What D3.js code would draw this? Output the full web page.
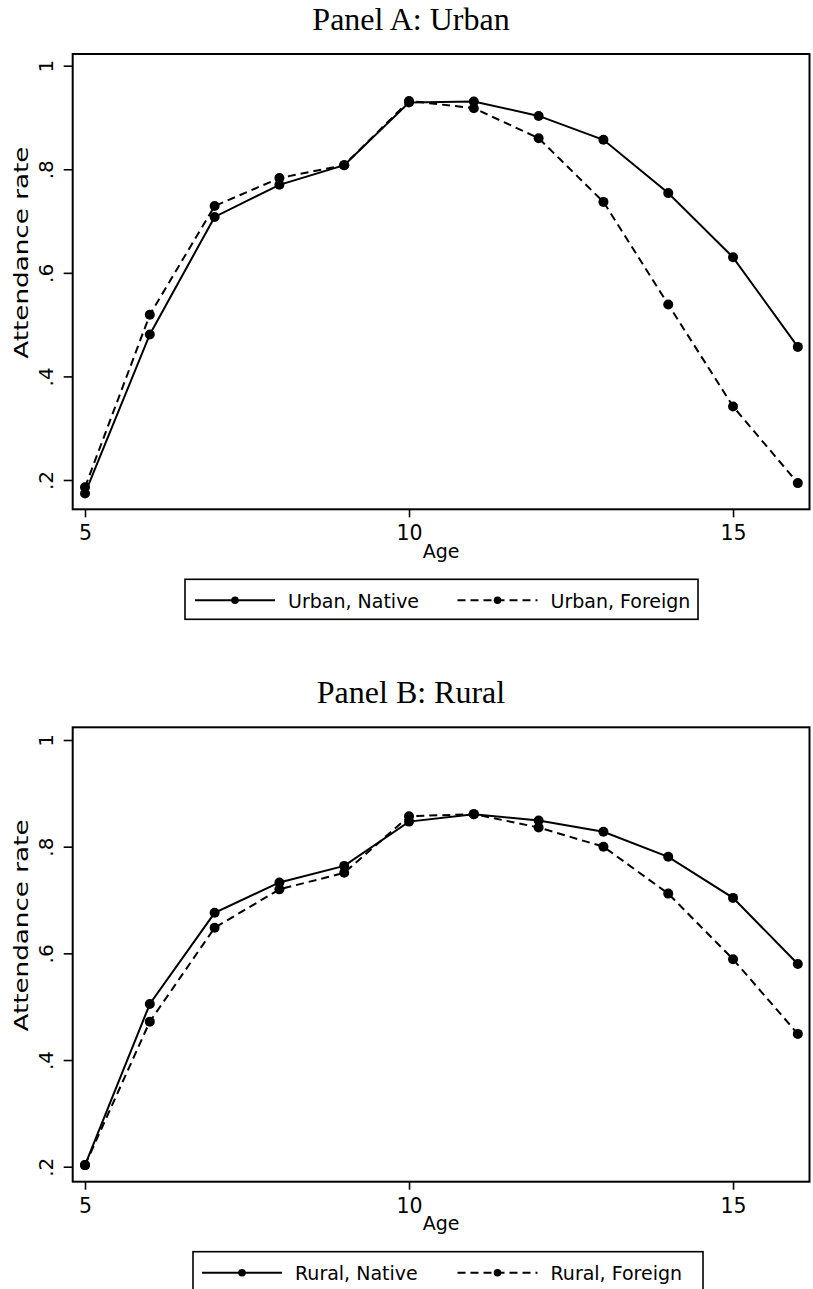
<!DOCTYPE html>
<html>
<head>
<meta charset="utf-8">
<script src="https://cdn.jsdelivr.net/npm/d3@7"></script>
<style>
  html, body { margin: 0; padding: 0; background: #fff; }
  svg { display: block; }
</style>
</head>
<body>
<svg id="chart" width="813" height="1289"></svg>
<script>
// ---- data ----
const ages = [5, 6, 7, 8, 9, 10, 11, 12, 13, 14, 15, 16];
const urbanNative  = [0.174, 0.481, 0.708, 0.770, 0.808, 0.929, 0.931, 0.903, 0.857, 0.754, 0.630, 0.457];
const urbanForeign = [0.186, 0.519, 0.729, 0.783, 0.808, 0.932, 0.918, 0.860, 0.737, 0.539, 0.342, 0.194];
const ruralNative  = [0.203, 0.505, 0.676, 0.733, 0.764, 0.847, 0.861, 0.849, 0.828, 0.781, 0.704, 0.580];
const ruralForeign = [0.203, 0.472, 0.648, 0.720, 0.751, 0.857, 0.861, 0.836, 0.800, 0.712, 0.589, 0.449];
const xTicks = [5, 10, 15];
const yTicks = [0.2, 0.4, 0.6, 0.8, 1];
const yTickLabels = [".2", ".4", ".6", ".8", "1"];
const panelTitles = ["Panel A: Urban", "Panel B: Rural"];
const seriesLabels = [["Urban, Native", "Urban, Foreign"], ["Rural, Native", "Rural, Foreign"]];
const xTitle = "Age";
const yTitle = "Attendance rate";

const svg = d3.select("#chart");
const sans = "'DejaVu Sans', sans-serif";
const serif = "'Liberation Serif', 'DejaVu Serif', serif";

const panels = [
  { top: 54, bottom: 509.3, yDom: [0.1434, 1.0226], series: [urbanNative, urbanForeign],
    legend: { boxX: 185, boxW: 513, keyX: [195, 457.5] } },
  { top: 727.3, bottom: 1181.7, yDom: [0.1719, 1.0238], series: [ruralNative, ruralForeign],
    legend: { boxX: 193, boxW: 510, keyX: [202, 457.5] } }
];
const left = 72.7, right = 809.5;
const x = d3.scaleLinear().domain([4.81, 16.18]).range([left, right]);

panels.forEach((p, pi) => {
  const g = svg.append("g");
  const y = d3.scaleLinear().domain(p.yDom).range([p.bottom, p.top]);

  // title
  g.append("text")
    .attr("x", 411).attr("y", p.top - 24.5)
    .attr("text-anchor", "middle")
    .style("font-family", serif).style("font-size", "32px")
    .text(panelTitles[pi]);

  // y axis
  const ya = g.append("g").attr("transform", `translate(${left},0)`)
    .call(d3.axisLeft(y).tickValues(yTicks).tickSize(9).tickPadding(0)
      .tickFormat((d, i) => yTickLabels[i]));
  ya.select(".domain").remove();
  ya.selectAll(".tick line").attr("stroke", "#000").attr("stroke-width", 1.6);
  ya.selectAll(".tick text")
    .attr("x", 0).attr("dy", null)
    .attr("transform", "translate(-19.5,0) rotate(-90)")
    .attr("text-anchor", "middle")
    .style("font-family", sans).style("font-size", "20px").attr("fill", "#000");

  // x axis
  const xa = g.append("g").attr("transform", `translate(0,${p.bottom})`)
    .call(d3.axisBottom(x).tickValues(xTicks).tickSize(8).tickPadding(0)
      .tickFormat(d3.format("d")));
  xa.select(".domain").remove();
  xa.selectAll(".tick line").attr("stroke", "#000").attr("stroke-width", 1.6);
  xa.selectAll(".tick text")
    .attr("y", 31).attr("dy", null)
    .style("font-family", sans).style("font-size", "20.5px").attr("fill", "#000");

  // axis titles
  g.append("text")
    .attr("x", (left + right) / 2).attr("y", p.bottom + 48.3)
    .attr("text-anchor", "middle")
    .style("font-family", sans).style("font-size", "19px")
    .text(xTitle);
  g.append("text")
    .attr("transform", `translate(28.3,${(p.top + p.bottom) / 2 - 29}) rotate(-90)`)
    .attr("text-anchor", "middle")
    .attr("textLength", 212).attr("lengthAdjust", "spacingAndGlyphs")
    .style("font-family", sans).style("font-size", "20px")
    .text(yTitle);

  // series
  const line = d3.line().x((d, i) => x(ages[i])).y(d => y(d));
  const dashes = [null, "8,5"];
  p.series.forEach((vals, si) => {
    g.append("path").datum(vals)
      .attr("d", line)
      .attr("fill", "none").attr("stroke", "#000").attr("stroke-width", 2)
      .attr("stroke-dasharray", dashes[si]);
    g.selectAll(null).data(vals).enter().append("circle")
      .attr("cx", (d, i) => x(ages[i])).attr("cy", d => y(d))
      .attr("r", 5).attr("fill", "#000");
  });

  // frame
  g.append("rect")
    .attr("x", left).attr("y", p.top)
    .attr("width", right - left).attr("height", p.bottom - p.top)
    .attr("fill", "none").attr("stroke", "#000").attr("stroke-width", 2);

  // legend
  const L = p.legend;
  const lg = g.append("g");
  const ly = p.bottom + 70, lh = 40;
  const sampleW = 80, gapST = 13;
  lg.append("rect")
    .attr("x", L.boxX).attr("y", ly).attr("width", L.boxW).attr("height", lh)
    .attr("fill", "#fff").attr("stroke", "#000").attr("stroke-width", 1.6);
  [0, 1].forEach(si => {
    const kx = L.keyX[si];
    lg.append("line")
      .attr("x1", kx).attr("x2", kx + sampleW)
      .attr("y1", ly + lh / 2 + 1).attr("y2", ly + lh / 2 + 1)
      .attr("stroke", "#000").attr("stroke-width", 1.9)
      .attr("stroke-dasharray", dashes[si]);
    lg.append("circle").attr("cx", kx + sampleW / 2).attr("cy", ly + lh / 2 + 1)
      .attr("r", 3.8).attr("fill", "#000");
    lg.append("text")
      .attr("x", kx + sampleW + gapST).attr("y", ly + 28.5)
      .style("font-family", sans).style("font-size", "19px")
      .text(seriesLabels[pi][si]);
  });
});
</script>
</body>
</html>
